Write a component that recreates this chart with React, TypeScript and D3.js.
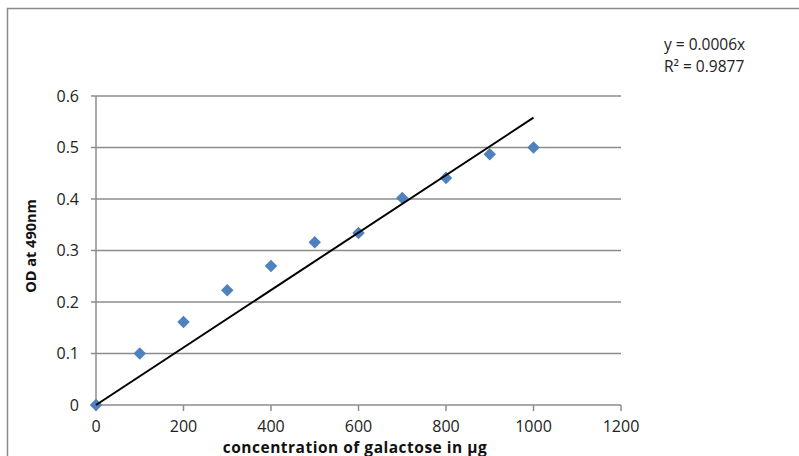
import React from "react";
import * as d3 from "d3";

const concentrations = [0, 100, 200, 300, 400, 500, 600, 700, 800, 900, 1000];
const odValues = [0, 0.1, 0.161, 0.223, 0.27, 0.316, 0.334, 0.402, 0.441, 0.487, 0.5];
const xTicks = [0, 200, 400, 600, 800, 1000, 1200];
const yTicks = [0, 0.1, 0.2, 0.3, 0.4, 0.5, 0.6];
const equationLines = ["y = 0.0006x", "R² = 0.9877"];

const W = 799;
const H = 456;
const M = { left: 96, right: 621, top: 96, bottom: 405 };
const FONT = "'Open Sans', 'Noto Sans', sans-serif";

export default function App() {
  const x = d3.scaleLinear().domain([0, 1200]).range([M.left, M.right]);
  const y = d3.scaleLinear().domain([0, 0.6]).range([M.bottom, M.top]);

  const sxy = d3.sum(concentrations, (c, i) => c * odValues[i]);
  const sxx = d3.sum(concentrations, (c) => c * c);
  const slope = sxy / sxx;
  const xMax = d3.max(concentrations) as number;
  const trend = d3.line<number>().x((d) => x(d)).y((d) => y(slope * d))([0, xMax]) as string;

  const diamond = d3.symbol().type(d3.symbolDiamond2).size(100)() as string;

  return (
    <svg width={W} height={H} style={{ position: "absolute", left: 0, top: 0, background: "#fff" }}>
      <rect x={0} y={0} width={W} height={H} fill="#fff" />
      {/* frame */}
      <path d={`M7.5,${H} V8.5 H${W}`} fill="none" stroke="#8a8a8a" strokeWidth={1.5} />
      {/* gridlines */}
      {yTicks.map((t) => (
        <line key={"g" + t} x1={M.left - 5} x2={M.right} y1={y(t)} y2={y(t)} stroke="#8c8c8c" strokeWidth={1.5} />
      ))}
      {/* y axis */}
      <line x1={M.left} x2={M.left} y1={M.top} y2={M.bottom} stroke="#8c8c8c" strokeWidth={1.5} />
      {/* x ticks */}
      {xTicks.map((t) => (
        <line key={"xt" + t} x1={x(t)} x2={x(t)} y1={M.bottom} y2={M.bottom + 6} stroke="#8c8c8c" strokeWidth={1.5} />
      ))}
      {/* y tick labels */}
      {yTicks.map((t) => (
        <text key={"yl" + t} x={79} y={y(t)} dy="0.36em" textAnchor="end" fontFamily={FONT} fontSize={16} fill="#222">
          {d3.format("")(+t.toFixed(1))}
        </text>
      ))}
      {/* x tick labels */}
      {xTicks.map((t) => (
        <text key={"xl" + t} x={x(t)} y={432} textAnchor="middle" fontFamily={FONT} fontSize={16} fill="#222">
          {t}
        </text>
      ))}
      {/* axis titles */}
      <text x={355} y={452.5} textAnchor="middle" fontFamily={FONT} fontSize={15.5} fontWeight="bold" letterSpacing={0.5} fill="#111">
        concentration of galactose in µg
      </text>
      <text transform="translate(36,246) rotate(-90)" textAnchor="middle" fontFamily={FONT} fontSize={14.5} fontWeight="bold" fill="#111">
        OD at 490nm
      </text>
      {/* points */}
      {concentrations.map((c, i) => (
        <path key={"p" + c} d={diamond} transform={`translate(${x(c)},${y(odValues[i])})`} fill="#4f81bd" />
      ))}
      {/* trendline */}
      <path d={trend} fill="none" stroke="#000" strokeWidth={2} />
      {/* equation */}
      {equationLines.map((l, i) => (
        <text key={l} x={664} y={50 + i * 22} fontFamily={FONT} fontSize={15.5} fill="#222">
          {l}
        </text>
      ))}
    </svg>
  );
}
